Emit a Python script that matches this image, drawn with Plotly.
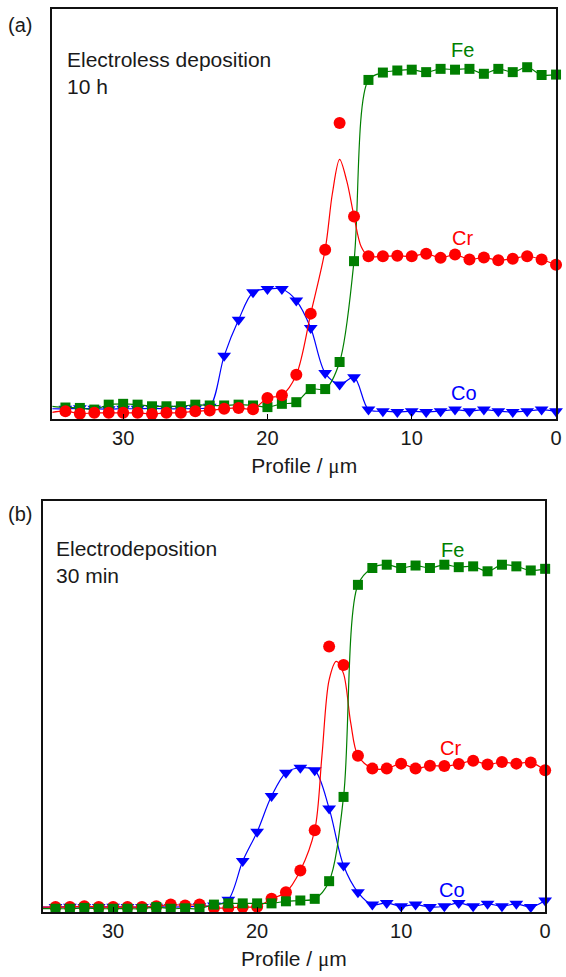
import plotly.graph_objects as go

# ---------------- data: panel (a) electroless deposition, 10 h ----------------
x_pts = [35, 34, 33, 32, 31, 30, 29, 28, 27, 26, 25, 24, 23, 22, 21, 20, 19, 18,
         17, 16, 15, 14, 13, 12, 11, 10, 9, 8, 7, 6, 5, 4, 3, 2, 1, 0]

fe_a = [3.1, 2.8, 2.7, 2.3, 3.5, 3.7, 3.5, 3.1, 3.1, 3.1, 3.5, 3.3, 3.3, 3.5, 3.3, 2.9, 3.7, 4.1,
        7.3, 7.3, 13.9, 38.5, 82.7, 84.5, 85.0, 85.2, 84.6, 85.4, 85.2, 85.4, 84.2, 85.4, 84.6, 85.8, 83.9, 84.0]
cr_a = [1.6, 1.9, 1.3, 1.5, 1.5, 1.5, 1.5, 1.2, 1.5, 1.5, 1.9, 2.1, 2.5, 2.7, 2.4, 5.1, 5.8, 10.8,
        25.7, 41.3, 72.2, 49.4, 39.7, 39.7, 39.8, 39.7, 40.3, 39.3, 40.1, 38.9, 39.4, 38.7, 39.1, 39.7, 38.9, 37.6]
co_a = [2.5, 2.5, 2.6, 2.5, 2.4, 2.5, 2.5, 2.6, 2.5, 2.5, 2.6, 3.0, 15.4, 24.2, 30.9, 31.7, 31.7, 28.9,
        22.2, 11.2, 8.4, 10.2, 2.3, 1.9, 1.7, 1.9, 1.7, 1.9, 2.3, 1.9, 2.3, 1.9, 1.7, 1.9, 2.3, 1.9]
# fitted Cr curve (a)
cr_fit_x_a = [35, 34, 33, 32, 31, 30, 29, 28, 27, 26, 25, 24, 23, 22, 21, 20, 19, 18, 17, 16,
              15.5, 15, 14.5, 14, 13.5, 13, 12, 11, 10, 9, 8, 7, 6, 5, 4, 3, 2, 1, 0]
cr_fit_a = [1.6, 1.9, 1.3, 1.5, 1.5, 1.5, 1.5, 1.2, 1.5, 1.5, 1.9, 2.1, 2.5, 2.7, 2.4, 5.1, 5.8, 10.8, 25.7, 41.3,
            55.0, 63.3, 58.0, 49.4, 42.0, 39.7, 39.7, 39.8, 39.7, 40.3, 39.3, 40.1, 38.9, 39.4, 38.7, 39.1, 39.7, 38.9, 37.6]

# ---------------- data: panel (b) electrodeposition, 30 min ----------------
fe_b = [0.8, 0.8, 0.8, 1.0, 0.8, 0.8, 0.8, 0.8, 1.2, 0.8, 0.9, 0.8, 1.8, 2.1, 2.1, 2.1, 2.1, 2.6,
        2.8, 3.2, 7.5, 28.0, 79.6, 83.7, 84.5, 83.7, 84.3, 83.7, 84.5, 83.9, 84.1, 82.9, 84.5, 84.1, 83.1, 83.5]
cr_b = [1.2, 1.2, 1.2, 1.4, 1.2, 1.2, 1.2, 1.2, 1.4, 1.8, 1.6, 1.8, 1.0, 1.0, 1.2, 1.3, 3.2, 4.8,
        10.1, 19.9, 64.6, 60.1, 38.0, 34.9, 34.9, 36.1, 34.9, 35.6, 35.5, 36.0, 36.8, 35.9, 36.5, 36.1, 36.4, 34.5]
co_b = [1.2, 1.2, 1.3, 1.2, 1.2, 1.3, 1.2, 1.2, 1.3, 1.2, 1.3, 1.4, 1.6, 3.0, 12.4, 19.5, 28.2, 33.9,
        35.1, 34.5, 25.2, 11.3, 4.8, 1.8, 2.2, 1.4, 1.8, 1.2, 1.4, 2.2, 1.4, 2.0, 1.4, 2.0, 1.2, 2.8]
cr_fit_x_b = [35, 34, 33, 32, 31, 30, 29, 28, 27, 26, 25, 24, 23, 22, 21, 20, 19, 18, 17, 16,
              15.5, 15, 14.5, 14, 13.5, 13, 12, 11, 10, 9, 8, 7, 6, 5, 4, 3, 2, 1, 0]
cr_fit_b = [1.2, 1.2, 1.2, 1.4, 1.2, 1.2, 1.2, 1.2, 1.4, 1.8, 1.6, 1.8, 1.0, 1.0, 1.2, 1.3, 3.2, 4.8, 10.1, 19.9,
            38.0, 56.5, 61.0, 58.0, 46.0, 38.0, 34.9, 34.9, 36.1, 34.9, 35.6, 35.5, 36.0, 36.8, 35.9, 36.5, 36.1, 36.4, 34.5]

x_ticks = [30, 20, 10, 0]
x_tick_text = ["30", "20", "10", "0"]

panel_tags = ["(a)", "(b)"]
panel_notes = ["Electroless deposition<br>10 h", "Electrodeposition<br>30 min"]
elem_names = ["Fe", "Cr", "Co"]
elem_label_pos_a = [(6.5, 90.0), (6.5, 44.1), (6.4, 6.3)]
elem_label_pos_b = [(6.45, 88.2), (6.55, 39.8), (6.45, 5.4)]

GREEN = "#007f00"
RED = "#ff0000"
BLUE = "#0000ff"
TXT = "#1a1a1a"
FONT = "Arial, Liberation Sans, sans-serif"

fig = go.Figure()


def add_series(xa, ya, color, symbol, size, xaxis, yaxis, mode="lines+markers"):
    fig.add_trace(go.Scatter(
        x=xa, y=ya, mode=mode, xaxis=xaxis, yaxis=yaxis, showlegend=False,
        line=dict(color=color, width=1.2, shape="spline", smoothing=0.9),
        marker=dict(color=color, symbol=symbol, size=size, line=dict(width=0)),
        cliponaxis=False,
    ))


# panel (a): Co, Fe, Cr
add_series(x_pts, co_a, BLUE, "triangle-down", 12, "x", "y")
add_series(x_pts, fe_a, GREEN, "square", 10, "x", "y")
add_series(cr_fit_x_a, cr_fit_a, RED, "circle", 12, "x", "y", mode="lines")
add_series(x_pts, cr_a, RED, "circle", 12, "x", "y", mode="markers")

# panel (b): Co, Cr, Fe
add_series(x_pts, co_b, BLUE, "triangle-down", 12, "x2", "y2")
add_series(cr_fit_x_b, cr_fit_b, RED, "circle", 12, "x2", "y2", mode="lines")
add_series(x_pts, cr_b, RED, "circle", 12, "x2", "y2", mode="markers")
add_series(x_pts, fe_b, GREEN, "square", 10, "x2", "y2")

W, H = 566, 977
dom_xa = [53 / W, 562 / W]
dom_xb = [43 / W, 551 / W]
dom_ya = [1 - 419 / H, 1 - 9 / H]
dom_yb = [1 - 912 / H, 1 - 501 / H]

xaxis_common = dict(
    range=[34.9, 0], tickvals=x_ticks, ticktext=x_tick_text,
    ticks="inside", ticklen=5, tickwidth=1.2, tickcolor="black",
    showline=True, mirror=True, linecolor="#111111", linewidth=1.6,
    showgrid=False, zeroline=False,
    tickfont=dict(family=FONT, size=20, color=TXT),
    title=dict(text="Profile / <span style='font-family:Liberation Serif, Times New Roman, serif'>μ</span>m",
               font=dict(family=FONT, size=21, color=TXT), standoff=11),
)
yaxis_common = dict(
    range=[0, 100], showticklabels=False, ticks="",
    showline=True, mirror=True, linecolor="#111111", linewidth=1.6,
    showgrid=False, zeroline=False,
)

fig.update_layout(
    width=W, height=H, margin=dict(l=0, r=0, t=0, b=0),
    paper_bgcolor="white", plot_bgcolor="white",
    xaxis=dict(domain=dom_xa, anchor="y", **xaxis_common),
    yaxis=dict(domain=dom_ya, anchor="x", **yaxis_common),
    xaxis2=dict(domain=dom_xb, anchor="y2", **xaxis_common),
    yaxis2=dict(domain=dom_yb, anchor="x2", **yaxis_common),
)

anns = []
# panel tags
anns.append(dict(text=panel_tags[0], x=20.5 / W, y=1 - 25 / H, xref="paper", yref="paper",
                 showarrow=False, font=dict(family=FONT, size=20, color=TXT),
                 xanchor="center", yanchor="middle"))
anns.append(dict(text=panel_tags[1], x=20.5 / W, y=1 - 514 / H, xref="paper", yref="paper",
                 showarrow=False, font=dict(family=FONT, size=20, color=TXT),
                 xanchor="center", yanchor="middle"))
# notes
anns.append(dict(text=panel_notes[0], x=66 / W, y=1 - 46 / H, xref="paper", yref="paper",
                 showarrow=False, align="left", font=dict(family=FONT, size=21, color=TXT),
                 xanchor="left", yanchor="top"))
anns.append(dict(text=panel_notes[1], x=55 / W, y=1 - 535 / H, xref="paper", yref="paper",
                 showarrow=False, align="left", font=dict(family=FONT, size=21, color=TXT),
                 xanchor="left", yanchor="top"))
colors = [GREEN, RED, BLUE]
for name, (lx, ly), c in zip(elem_names, elem_label_pos_a, colors):
    anns.append(dict(text=name, x=lx, y=ly, xref="x", yref="y", showarrow=False,
                     font=dict(family=FONT, size=20, color=c), xanchor="center", yanchor="middle"))
for name, (lx, ly), c in zip(elem_names, elem_label_pos_b, colors):
    anns.append(dict(text=name, x=lx, y=ly, xref="x2", yref="y2", showarrow=False,
                     font=dict(family=FONT, size=20, color=c), xanchor="center", yanchor="middle"))
fig.update_layout(annotations=anns)

fig.write_html("out.html")
